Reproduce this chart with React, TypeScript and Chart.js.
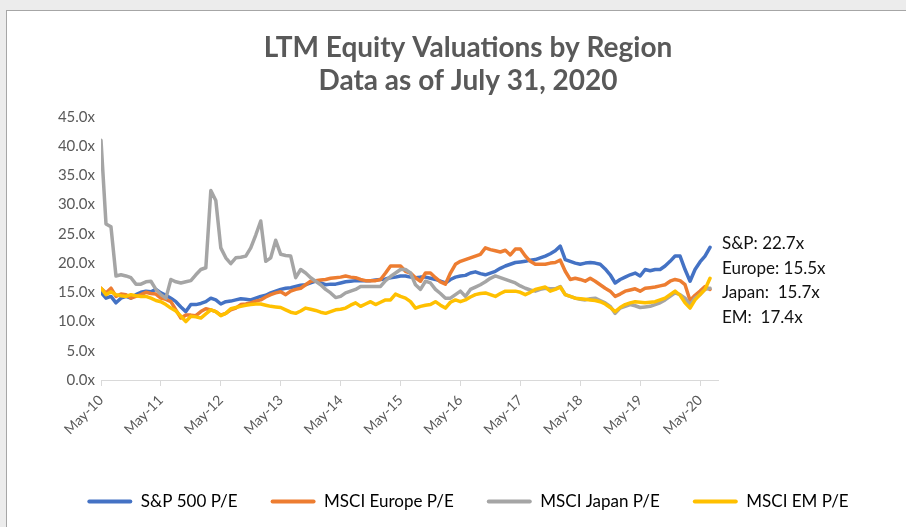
import React, { useEffect, useRef } from "react";
import { Chart, registerables } from "chart.js";

Chart.register(...registerables);

const FONT = 'Lato, "Open Sans", sans-serif';

const tickLabels = ["May-10", "May-11", "May-12", "May-13", "May-14", "May-15", "May-16", "May-17", "May-18", "May-19", "May-20"];

// Monthly values, May-10 .. Jul-20
const sp500 = [
  15.0, 14.0, 14.3, 13.2, 14.0, 14.3, 14.0, 14.6, 15.0, 15.2, 15.1, 15.5,
  14.9, 14.5, 14.0, 13.4, 12.5, 11.7, 12.9, 12.9, 13.1, 13.4, 14.0, 13.7,
  13.0, 13.4, 13.5, 13.7, 13.9, 13.8, 13.7, 14.0, 14.3, 14.5, 14.9, 15.2,
  15.5, 15.7, 15.8, 16.0, 16.2, 16.3, 16.6, 16.9, 16.6, 16.3, 16.4, 16.4,
  16.6, 16.8, 16.9, 17.0, 17.0, 17.0, 17.0, 17.1, 17.2, 17.3, 17.5, 17.6,
  17.8, 17.8, 17.6, 17.5, 17.6, 17.6, 17.4, 17.2, 16.9, 16.6, 17.2, 17.6,
  17.8, 17.9, 18.3, 18.5, 18.2, 18.0, 18.3, 18.6, 19.1, 19.5, 19.8, 20.1,
  20.2, 20.3, 20.5, 20.6, 20.9, 21.2, 21.6, 22.1, 22.9, 20.6, 20.3, 20.0,
  19.8, 20.0, 20.1, 20.0, 19.8, 19.0, 18.0, 16.6, 17.2, 17.6, 18.0, 18.3,
  17.8, 18.9, 18.7, 18.9, 18.9, 19.5, 20.3, 21.2, 21.2, 18.9, 16.9, 18.9,
  20.2, 21.2, 22.7,
];
const europe = [
  15.7, 14.9, 15.7, 14.3, 14.7, 14.6, 14.0, 14.3, 14.6, 15.0, 14.8, 14.7,
  14.0, 13.8, 13.4, 12.0, 10.6, 11.1, 11.1, 11.0, 11.7, 12.2, 12.0, 11.7,
  11.1, 11.4, 12.0, 12.3, 12.9, 13.0, 13.2, 13.5, 13.7, 14.2, 14.6, 14.9,
  15.1, 14.6, 15.2, 15.5, 15.7, 16.3, 16.9, 17.0, 17.1, 17.2, 17.4, 17.5,
  17.6, 17.8, 17.6, 17.5, 17.2, 17.0, 17.0, 17.0, 17.2, 18.3, 19.5, 19.5,
  19.5, 18.6, 18.3, 17.5, 16.9, 18.3, 18.3, 17.5, 16.8, 16.4, 18.3, 19.8,
  20.3, 20.6, 20.9, 21.2, 21.5, 22.6, 22.3, 22.1, 21.9, 22.2, 21.4, 22.4,
  22.4, 21.2, 20.3, 19.8, 19.8, 19.8, 20.0, 20.1, 20.5, 18.6, 17.2, 17.4,
  17.2, 16.9, 17.4, 16.9, 16.3, 15.7, 15.2, 14.3, 14.7, 15.2, 15.4, 15.6,
  15.2, 15.7, 15.8, 15.9, 16.1, 16.3, 16.9, 17.2, 17.0, 16.3, 13.6, 14.5,
  15.2, 16.0, 15.5,
];
const japan = [
  41.0, 26.7, 26.2, 17.8, 18.0, 17.8, 17.5, 16.4, 16.4, 16.8, 16.9, 15.5,
  14.6, 14.0, 17.2, 16.8, 16.6, 16.8, 17.0, 18.0, 18.9, 19.2, 32.4, 30.7,
  22.6, 20.9, 19.9, 20.9, 21.0, 21.2, 22.6, 24.8, 27.2, 20.3, 20.9, 23.9,
  21.5, 21.3, 21.2, 17.5, 18.9, 18.3, 17.5, 16.9, 16.3, 15.5, 14.9, 14.1,
  14.3, 14.9, 15.2, 15.5, 16.0, 16.0, 16.0, 16.0, 16.0, 17.0, 17.7, 18.3,
  18.9, 18.9, 18.3, 16.3, 15.5, 16.9, 16.6, 15.5, 14.8, 14.0, 14.0, 14.6,
  15.2, 14.3, 15.5, 15.9, 16.3, 16.8, 17.4, 17.8, 17.5, 17.2, 16.9, 16.6,
  16.1, 15.7, 15.4, 15.2, 15.5, 15.7, 15.6, 15.6, 16.0, 14.6, 14.3, 14.0,
  13.8, 13.7, 13.9, 14.0, 13.6, 13.2, 12.6, 11.4, 12.3, 12.6, 12.9, 12.7,
  12.4, 12.5, 12.6, 12.9, 13.2, 13.7, 14.3, 14.9, 14.6, 14.0, 12.9, 14.0,
  14.6, 15.5, 15.7,
];
const em = [
  15.7, 14.6, 15.1, 14.6, 14.4, 14.3, 14.6, 14.4, 14.3, 14.3, 14.0, 13.6,
  13.4, 12.9, 12.3, 11.8, 10.9, 10.0, 10.9, 10.8, 10.6, 11.3, 12.0, 11.7,
  11.0, 11.4, 12.2, 12.4, 12.6, 12.8, 12.9, 13.0, 13.0, 12.8, 12.6, 12.5,
  12.4, 12.0, 11.6, 11.4, 11.8, 12.3, 12.1, 11.9, 11.6, 11.4, 11.7, 12.0,
  12.1, 12.3, 12.8, 13.2, 12.6, 13.0, 13.4, 12.9, 13.3, 13.7, 13.7, 14.7,
  14.3, 14.0, 13.4, 12.3, 12.6, 12.8, 12.9, 13.4, 12.8, 12.3, 13.3, 13.7,
  13.4, 13.7, 14.2, 14.6, 14.8, 14.9, 14.6, 14.3, 14.8, 15.2, 15.2, 15.2,
  15.0, 14.6, 15.0, 15.5, 15.7, 15.9, 15.2, 15.5, 15.9, 14.6, 14.3, 14.0,
  13.9, 13.8, 13.7, 13.6, 13.4, 13.0, 12.4, 11.7, 12.4, 12.9, 13.2, 13.4,
  13.3, 13.2, 13.3, 13.4, 13.7, 14.0, 14.6, 15.2, 14.5, 13.2, 12.3, 13.7,
  14.6, 15.5, 17.4,
];

const seriesNames = ["S&P 500 P/E", "MSCI Europe P/E", "MSCI Japan P/E", "MSCI EM P/E"];
const seriesColors = ["#4472C4", "#ED7D31", "#A5A5A5", "#FFC000"];
const annotationLines = ["S&P: 22.7x", "Europe: 15.5x", "Japan:  15.7x", "EM:  17.4x"];
const annotationAnchor = 23.3;
const titleLines = ["LTM Equity Valuations by Region", "Data as of July 31, 2020"];

const endLabels = {
  id: "endLabels",
  afterDraw(chart: any) {
    const { ctx, chartArea, scales } = chart;
    const y0 = scales.y.getPixelForValue(annotationAnchor);
    ctx.save();
    ctx.font = `17px ${FONT}`;
    ctx.fillStyle = "#111111";
    ctx.textBaseline = "middle";
    ctx.textAlign = "left";
    annotationLines.forEach((t, k) => ctx.fillText(t, chartArea.right + 4, y0 + k * 24.5));
    ctx.restore();
  },
};

export default function App() {
  const ref = useRef<HTMLCanvasElement | null>(null);

  useEffect(() => {
    document.body.style.margin = "0";
    document.body.style.overflow = "hidden";
    const allSeries = [sp500, europe, japan, em];
    const chart = new Chart(ref.current as HTMLCanvasElement, {
      type: "line",
      data: {
        datasets: allSeries.map((vals, i) => ({
          label: seriesNames[i],
          data: vals.map((v, k) => ({ x: k, y: v })),
          borderColor: seriesColors[i],
          backgroundColor: seriesColors[i],
          borderWidth: 3.5,
          pointRadius: 0,
          tension: 0,
          borderJoinStyle: "round" as const,
          borderCapStyle: "round" as const,
          order: 4 - i,
        })),
      },
      options: {
        responsive: false,
        animation: false,
        layout: { padding: { left: 0, right: 0, top: 0, bottom: 7 } },
        plugins: {
          tooltip: { enabled: false },
          title: {
            display: true,
            text: titleLines,
            color: "#595959",
            font: { family: FONT, size: 28, weight: "bold", lineHeight: 1.16 },
            padding: { top: 21, bottom: 20 },
          },
          legend: {
            position: "bottom",
            labels: {
              boxWidth: 45,
              boxHeight: 4,
              padding: 33,
              color: "#595959",
              font: { family: FONT, size: 17 },
              generateLabels: (chart: any) =>
                chart.data.datasets.map((ds: any, i: number) => ({
                  text: ds.label,
                  fillStyle: ds.borderColor,
                  strokeStyle: ds.borderColor,
                  lineWidth: 0,
                  hidden: false,
                  datasetIndex: i,
                  borderRadius: 2,
                })),
            },
          },
        },
        scales: {
          x: {
            type: "linear",
            min: 0,
            max: 123.6,
            afterBuildTicks: (s: any) => {
              s.ticks = tickLabels.map((_, k) => ({ value: k * 12 }));
            },
            afterFit: (s: any) => {
              s.height = 80;
            },
            grid: { display: true, drawOnChartArea: false, drawTicks: true, tickLength: 6, color: "#D9D9D9" },
            border: { display: true, color: "#D9D9D9", width: 1 },
            ticks: {
              autoSkip: false,
              maxRotation: 45,
              minRotation: 45,
              padding: 6,
              color: "#595959",
              font: { family: FONT, size: 14 },
              callback: (v: any) => tickLabels[Math.round(Number(v) / 12)] ?? "",
            },
          },
          y: {
            position: "left",
            min: 0,
            max: 45,
            afterFit: (s: any) => {
              s.width = 94;
            },
            grid: { display: false, drawTicks: false },
            border: { display: false },
            ticks: {
              stepSize: 5,
              padding: 6,
              color: "#595959",
              font: { family: FONT, size: 15 },
              callback: (v: any) => Number(v).toFixed(1) + "x",
            },
          },
          yRight: {
            position: "right",
            min: 0,
            max: 1,
            afterFit: (s: any) => {
              s.width = 211;
            },
            grid: { display: false, drawTicks: false },
            border: { display: false },
            ticks: { display: false },
          },
        },
      },
      plugins: [endLabels],
    } as any);
    return () => chart.destroy();
  }, []);

  return (
    <div style={{ position: "relative", width: 906, height: 527, overflow: "hidden", background: "#ECECEC" }}>
      <div
        style={{
          position: "absolute",
          left: 6,
          top: 10,
          width: 960,
          height: 560,
          background: "#FFFFFF",
          border: "1px solid #A6A6A6",
        }}
      >
        <canvas ref={ref} width={922} height={516} style={{ display: "block" }} />
      </div>
    </div>
  );
}
